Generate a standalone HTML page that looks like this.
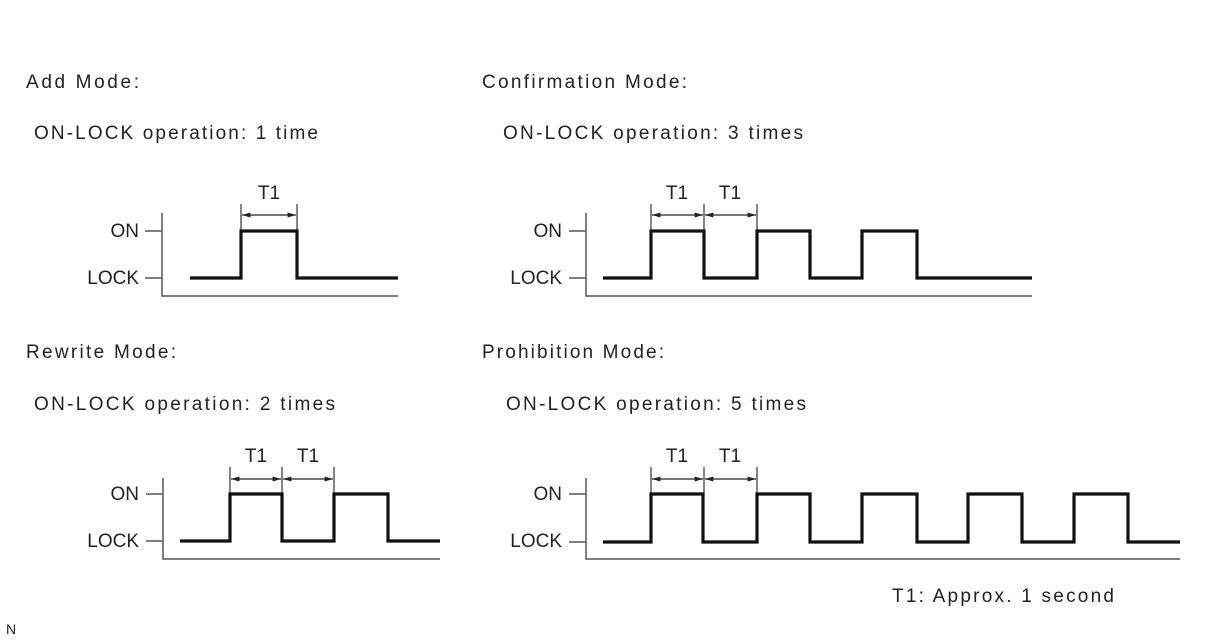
<!DOCTYPE html>
<html><head><meta charset="utf-8"><style>html,body{margin:0;padding:0;background:#fff}svg{display:block}</style></head>
<body>
<svg width="1206" height="642" viewBox="0 0 1206 642" xmlns="http://www.w3.org/2000/svg" font-family="Liberation Sans, Arial, sans-serif" fill="#222">
<defs>
<marker id="a" viewBox="0 0 10 10" refX="10" refY="5" markerWidth="7" markerHeight="7" orient="auto-start-reverse"><path d="M0,2 L10,5 L0,8 z" fill="#222"/></marker>
</defs>
<g font-size="19">
<text x="26" y="88" textLength="113">Add Mode:</text>
<text x="34" y="139" textLength="284">ON-LOCK operation: 1 time</text>
<text x="482" y="88" textLength="205">Confirmation Mode:</text>
<text x="503" y="139" textLength="300">ON-LOCK operation: 3 times</text>
<text x="26" y="358" textLength="150">Rewrite Mode:</text>
<text x="34" y="410" textLength="301">ON-LOCK operation: 2 times</text>
<text x="482" y="358" textLength="182">Prohibition Mode:</text>
<text x="506" y="410" textLength="300">ON-LOCK operation: 5 times</text>
<text x="892" y="602" textLength="222">T1: Approx. 1 second</text>
</g>
<text x="6" y="634" font-size="14">N</text>
<g font-size="19" text-anchor="end">
<text x="139" y="237">ON</text><text x="139" y="284">LOCK</text>
<text x="562" y="237">ON</text><text x="562" y="284">LOCK</text>
<text x="139" y="500">ON</text><text x="139" y="547">LOCK</text>
<text x="562" y="500">ON</text><text x="562" y="547">LOCK</text>
</g>
<g font-size="19" text-anchor="middle">
<text x="269" y="199">T1</text>
<text x="677" y="199">T1</text><text x="730" y="199">T1</text>
<text x="256" y="462">T1</text><text x="308" y="462">T1</text>
<text x="677" y="462">T1</text><text x="730" y="462">T1</text>
</g>
<g stroke="#555" stroke-width="1.5" fill="none">
<path d="M162,213 V296 H398 M145,231 H162 M145,278 H162"/>
<path d="M586,213 V296 H1032 M569,231 H586 M569,278 H586"/>
<path d="M163,478 V559 H440 M146,494 H163 M146,541 H163"/>
<path d="M586,478 V559 H1180 M569,494 H586 M569,542 H586"/>
</g>
<g stroke="#333" stroke-width="1.2" fill="none">
<path d="M241,204 V231 M297,204 V231"/>
<path d="M651,204 V231 M704,204 V231 M757,204 V231"/>
<path d="M230,467 V494 M282,467 V494 M334,467 V494"/>
<path d="M651,467 V494 M704,467 V494 M757,467 V494"/>
</g>
<g stroke="#222" stroke-width="1.2" marker-start="url(#a)" marker-end="url(#a)">
<line x1="242" y1="215" x2="296" y2="215"/>
<line x1="652" y1="215" x2="703" y2="215"/><line x1="705" y1="215" x2="756" y2="215"/>
<line x1="231" y1="479" x2="281" y2="479"/><line x1="283" y1="479" x2="333" y2="479"/>
<line x1="652" y1="479" x2="703" y2="479"/><line x1="705" y1="479" x2="756" y2="479"/>
</g>
<g stroke="#111" stroke-width="3.2" fill="none" stroke-linejoin="miter">
<path d="M190,278 H241 V231 H297 V278 H398"/>
<path d="M603,278 H651 V231 H704 V278 H757 V231 H810 V278 H862 V231 H917 V278 H1032"/>
<path d="M180,541 H230 V494 H282 V541 H334 V494 H388 V541 H440"/>
<path d="M603,542 H651 V494 H703 V542 H757 V494 H810 V542 H862 V494 H917 V542 H968 V494 H1022 V542 H1074 V494 H1128 V542 H1180"/>
</g>
</svg>
</body></html>
